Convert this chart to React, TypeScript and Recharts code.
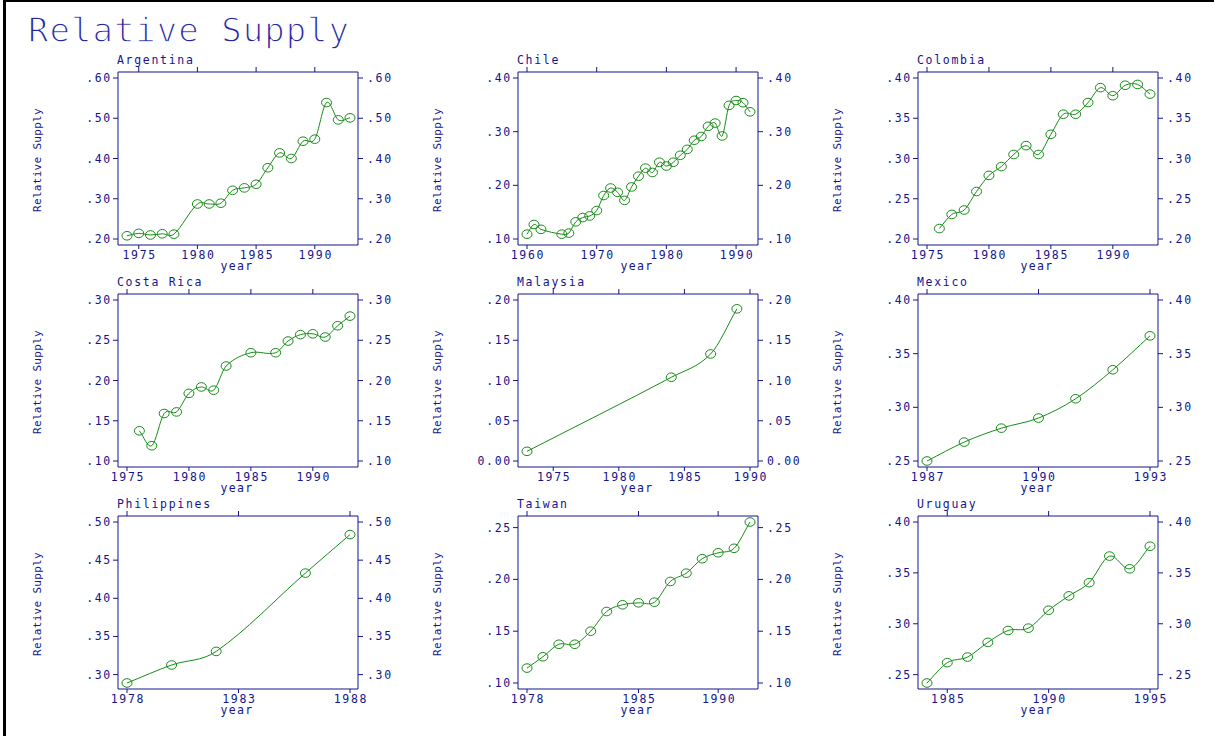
import { LineChart, Line, XAxis, YAxis, Label } from 'recharts'

const NAVY = '#14148c'
const GREEN = '#168c16'
const MONO = '"DejaVu Sans Mono", monospace'

// Argentina
const argentinaYears = [1974, 1975, 1976, 1977, 1978, 1980, 1981, 1982, 1983, 1984, 1985, 1986, 1987, 1988, 1989, 1990, 1991, 1992, 1993]
const argentinaSupply = [0.208, 0.214, 0.21, 0.213, 0.212, 0.287, 0.287, 0.289, 0.321, 0.327, 0.336, 0.377, 0.414, 0.4, 0.443, 0.448, 0.539, 0.496, 0.501]
const argentinaXTicks = [1975, 1980, 1985, 1990]
const argentinaYTicks = [0.2, 0.3, 0.4, 0.5, 0.6]

// Chile
const chileYears = [1960, 1961, 1962, 1965, 1966, 1967, 1968, 1969, 1970, 1971, 1972, 1973, 1974, 1975, 1976, 1977, 1978, 1979, 1980, 1981, 1982, 1983, 1984, 1985, 1986, 1987, 1988, 1989, 1990, 1991, 1992]
const chileSupply = [0.109, 0.127, 0.118, 0.109, 0.111, 0.132, 0.14, 0.143, 0.153, 0.181, 0.195, 0.187, 0.172, 0.197, 0.217, 0.232, 0.224, 0.243, 0.236, 0.243, 0.256, 0.267, 0.284, 0.291, 0.31, 0.316, 0.292, 0.349, 0.358, 0.354, 0.337]
const chileXTicks = [1960, 1970, 1980, 1990]
const chileYTicks = [0.1, 0.2, 0.3, 0.4]

// Colombia
const colombiaYears = [1976, 1977, 1978, 1979, 1980, 1981, 1982, 1983, 1984, 1985, 1986, 1987, 1988, 1989, 1990, 1991, 1992, 1993]
const colombiaSupply = [0.213, 0.2305, 0.236, 0.259, 0.279, 0.29, 0.305, 0.316, 0.305, 0.33, 0.355, 0.355, 0.3695, 0.388, 0.378, 0.391, 0.392, 0.38]
const colombiaXTicks = [1975, 1980, 1985, 1990]
const colombiaYTicks = [0.2, 0.25, 0.3, 0.35, 0.4]

// Costa Rica
const costaRicaYears = [1976, 1977, 1978, 1979, 1980, 1981, 1982, 1983, 1985, 1987, 1988, 1989, 1990, 1991, 1992, 1993]
const costaRicaSupply = [0.1375, 0.119, 0.159, 0.161, 0.184, 0.192, 0.188, 0.218, 0.2345, 0.2345, 0.249, 0.257, 0.258, 0.254, 0.268, 0.28]
const costaRicaXTicks = [1975, 1980, 1985, 1990]
const costaRicaYTicks = [0.1, 0.15, 0.2, 0.25, 0.3]

// Malaysia
const malaysiaYears = [1973, 1984, 1987, 1989]
const malaysiaSupply = [0.012, 0.104, 0.133, 0.189]
const malaysiaXTicks = [1975, 1980, 1985, 1990]
const malaysiaYTicks = [0, 0.05, 0.1, 0.15, 0.2]

// Mexico
const mexicoYears = [1987, 1988, 1989, 1990, 1991, 1992, 1993]
const mexicoSupply = [0.25, 0.2676, 0.2806, 0.29, 0.308, 0.335, 0.3666]
const mexicoXTicks = [1987, 1990, 1993]
const mexicoYTicks = [0.25, 0.3, 0.35, 0.4]

// Philippines
const philippinesYears = [1978, 1980, 1982, 1986, 1988]
const philippinesSupply = [0.289, 0.3126, 0.3304, 0.433, 0.4835]
const philippinesXTicks = [1978, 1983, 1988]
const philippinesYTicks = [0.3, 0.35, 0.4, 0.45, 0.5]

// Taiwan
const taiwanYears = [1978, 1979, 1980, 1981, 1982, 1983, 1984, 1985, 1986, 1987, 1988, 1989, 1990, 1991, 1992]
const taiwanSupply = [0.1144, 0.1253, 0.1374, 0.1374, 0.15, 0.169, 0.1755, 0.1774, 0.178, 0.198, 0.206, 0.22, 0.2257, 0.23, 0.2554]
const taiwanXTicks = [1978, 1985, 1990]
const taiwanYTicks = [0.1, 0.15, 0.2, 0.25]

// Uruguay
const uruguayYears = [1984, 1985, 1986, 1987, 1988, 1989, 1990, 1991, 1992, 1993, 1994, 1995]
const uruguaySupply = [0.2418, 0.2618, 0.2673, 0.2817, 0.2934, 0.2957, 0.3133, 0.3274, 0.3404, 0.3665, 0.354, 0.3762]
const uruguayXTicks = [1985, 1990, 1995]
const uruguayYTicks = [0.25, 0.3, 0.35, 0.4]

const panels = [
  { title: 'Argentina', years: argentinaYears, supply: argentinaSupply, xTicks: argentinaXTicks, yTicks: argentinaYTicks },
  { title: 'Chile', years: chileYears, supply: chileSupply, xTicks: chileXTicks, yTicks: chileYTicks },
  { title: 'Colombia', years: colombiaYears, supply: colombiaSupply, xTicks: colombiaXTicks, yTicks: colombiaYTicks },
  { title: 'Costa Rica', years: costaRicaYears, supply: costaRicaSupply, xTicks: costaRicaXTicks, yTicks: costaRicaYTicks },
  { title: 'Malaysia', years: malaysiaYears, supply: malaysiaSupply, xTicks: malaysiaXTicks, yTicks: malaysiaYTicks },
  { title: 'Mexico', years: mexicoYears, supply: mexicoSupply, xTicks: mexicoXTicks, yTicks: mexicoYTicks },
  { title: 'Philippines', years: philippinesYears, supply: philippinesSupply, xTicks: philippinesXTicks, yTicks: philippinesYTicks },
  { title: 'Taiwan', years: taiwanYears, supply: taiwanSupply, xTicks: taiwanXTicks, yTicks: taiwanYTicks },
  { title: 'Uruguay', years: uruguayYears, supply: uruguaySupply, xTicks: uruguayXTicks, yTicks: uruguayYTicks },
]

const fmtSupply = (v: number) => (v === 0 ? '0.00' : v.toFixed(2).replace(/^0/, ''))

// cubic Hermite spline, tangent at each point taken from its two neighbours
const splineCurve = (context: any) => {
  let xs: number[] = []
  let ys: number[] = []
  return {
    areaStart() {},
    areaEnd() {},
    lineStart() {
      xs = []
      ys = []
    },
    point(x: number, y: number) {
      xs.push(+x)
      ys.push(+y)
    },
    lineEnd() {
      const n = xs.length
      if (!n) return
      context.moveTo(xs[0], ys[0])
      if (n === 1) return
      const m = xs.map((_, i) => {
        const a = Math.max(i - 1, 0)
        const b = Math.min(i + 1, n - 1)
        return (ys[b] - ys[a]) / (xs[b] - xs[a])
      })
      for (let i = 0; i < n - 1; i++) {
        const h = (xs[i + 1] - xs[i]) / 3
        context.bezierCurveTo(xs[i] + h, ys[i] + m[i] * h, xs[i + 1] - h, ys[i + 1] - m[i + 1] * h, xs[i + 1], ys[i + 1])
      }
    },
  }
}

const textProps = {
  fill: NAVY,
  fontSize: 11.5,
  fontFamily: MONO,
  letterSpacing: 1.7,
}

function LeftTick({ x, y, payload }: any) {
  return (
    <text x={x + 2} y={y} dy={4} textAnchor="end" {...textProps}>
      {fmtSupply(payload.value)}
    </text>
  )
}

function RightTick({ x, y, payload }: any) {
  return (
    <text x={x} y={y} dy={4} textAnchor="start" {...textProps}>
      {fmtSupply(payload.value)}
    </text>
  )
}

function BottomTick({ x, y, payload }: any) {
  return (
    <text x={x + 1} y={y} dy={8} textAnchor="middle" {...textProps}>
      {payload.value}
    </text>
  )
}

const NoTick = () => <g />

function Circle({ cx, cy, index }: any) {
  if (cx == null || cy == null) return <g key={index} />
  return <ellipse key={index} cx={cx} cy={cy} rx={5} ry={4.3} fill="none" stroke={GREEN} strokeWidth={1} />
}

function Panel({ title, years, supply, xTicks, yTicks, left, top }: any) {
  const data = years.map((year: number, i: number) => ({ year, supply: supply[i] }))
  const xDomain = [Math.min(years[0], xTicks[0]), Math.max(years[years.length - 1], xTicks[xTicks.length - 1])]
  const yDomain = [Math.min(...supply, yTicks[0]), Math.max(...supply, yTicks[yTicks.length - 1])]
  const xPad = { left: 9, right: 8 }
  const yPad = { top: 6, bottom: 6 }

  return (
    <div style={{ position: 'absolute', left, top }}>
      <LineChart width={390} height={225} data={data} margin={{ top: 0, right: 0, bottom: 0, left: 0 }}>
        <XAxis
          xAxisId="bottom"
          dataKey="year"
          type="number"
          domain={xDomain}
          ticks={xTicks}
          interval={0}
          height={30}
          padding={xPad}
          stroke={NAVY}
          tickSize={4}
          tickMargin={2}
          tick={<BottomTick />}
        >
          <Label
            content={({ viewBox }: any) => (
              <text x={viewBox.x + viewBox.width / 2 - 1} y={viewBox.y + 24.5} textAnchor="middle" {...textProps} letterSpacing={1.3}>
                year
              </text>
            )}
          />
        </XAxis>
        <XAxis
          xAxisId="top"
          orientation="top"
          dataKey="year"
          type="number"
          domain={xDomain}
          ticks={xTicks}
          interval={0}
          height={22}
          padding={xPad}
          stroke={NAVY}
          tickSize={5}
          tick={<NoTick />}
        >
          <Label
            content={({ viewBox }: any) => (
              <text x={viewBox.x - 1} y={viewBox.y + 14} {...textProps}>
                {title}
              </text>
            )}
          />
        </XAxis>
        <YAxis
          yAxisId="left"
          type="number"
          domain={yDomain}
          ticks={yTicks}
          interval={0}
          width={98}
          padding={yPad}
          stroke={NAVY}
          tickSize={5}
          tickMargin={3}
          tick={<LeftTick />}
        >
          <Label
            content={({ viewBox }: any) => {
              const cx = viewBox.x + 20.5
              const cy = viewBox.y + viewBox.height / 2 + 1.5
              return (
                <text x={cx} y={cy} textAnchor="middle" transform={`rotate(-90, ${cx}, ${cy})`} {...textProps} fontSize={11} letterSpacing={0.3}>
                  Relative Supply
                </text>
              )
            }}
          />
        </YAxis>
        <YAxis
          yAxisId="right"
          orientation="right"
          type="number"
          domain={yDomain}
          ticks={yTicks}
          interval={0}
          width={52}
          padding={yPad}
          stroke={NAVY}
          tickSize={5}
          tickMargin={4}
          tick={<RightTick />}
        />
        <Line
          xAxisId="bottom"
          yAxisId="left"
          type={splineCurve as any}
          dataKey="supply"
          stroke={GREEN}
          strokeWidth={1}
          dot={(p: any) => <Circle key={p.index} {...p} />}
          activeDot={false}
          isAnimationActive={false}
        />
        {/* keeps the top and right axes tied to the same data */}
        <Line
          xAxisId="top"
          yAxisId="right"
          dataKey="supply"
          stroke="none"
          dot={false}
          activeDot={false}
          isAnimationActive={false}
        />
      </LineChart>
    </div>
  )
}

export default function App() {
  return (
    <div style={{ position: 'absolute', left: 0, top: 0, width: 1214, height: 736, background: '#fff', overflow: 'hidden' }}>
      <div style={{ position: 'absolute', left: 3, top: 0, width: 3, height: 736, background: '#000' }} />
      <div style={{ position: 'absolute', left: 3, top: 0, width: 1211, height: 2, background: '#000' }} />
      <div
        style={{
          position: 'absolute',
          left: 28,
          top: 10,
          fontFamily: MONO,
          fontSize: 34,
          letterSpacing: 1,
          lineHeight: '40px',
          color: '#2626a0',
          WebkitTextStroke: '1.3px #fff',
          whiteSpace: 'nowrap',
        }}
      >
        Relative Supply
      </div>
      {panels.map((p, i) => (
        <Panel key={p.title} {...p} left={20 + (i % 3) * 400} top={50 + Math.floor(i / 3) * 222} />
      ))}
    </div>
  )
}
